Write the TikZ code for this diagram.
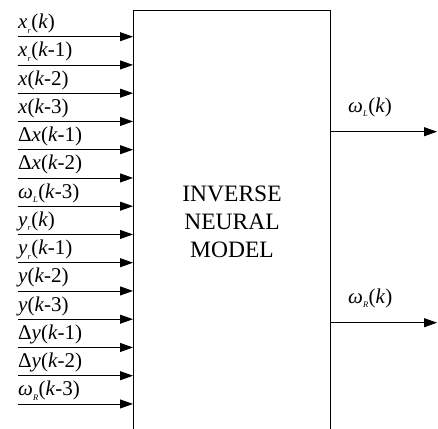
\documentclass[tikz,border=0pt]{standalone}
\usepackage{fontspec}
\setmainfont{Liberation Serif}
\usetikzlibrary{arrows.meta}
\newcommand{\lowidx}[1]{\raisebox{-.45ex}{\fontsize{8.5}{8.5}\selectfont\textit{#1}}\kern.5pt}
\tikzset{every node/.append style={font=\rmfamily},
  sig/.style={-{Triangle[length=13pt,width=9pt]},line width=.8pt},
  lbl/.style={anchor=base west,inner sep=0pt,font=\fontsize{21}{21}\selectfont}}

\begin{document}
\begin{tikzpicture}[x=1pt,y=-1pt]
  \clip (0,0) rectangle (438,428);
  \node[draw,line width=1pt,minimum width=197pt,minimum height=422pt,anchor=north west,
        align=center,font=\fontsize{23.5}{28}\selectfont] (model) at (133,10) {INVERSE\\NEURAL\\MODEL};
  % inputs
  \foreach \lab [count=\i from 0] in {
      {\textit{x}\lowidx{r}(\textit{k})},
      {\textit{x}\lowidx{r}(\textit{k}-1)},
      {\textit{x}(\textit{k}-2)},
      {\textit{x}(\textit{k}-3)},
      {Δ\textit{x}(\textit{k}-1)},
      {Δ\textit{x}(\textit{k}-2)},
      {\textit{ω}\lowidx{L}(\textit{k}-3)},
      {\textit{y}\lowidx{r}(\textit{k})},
      {\textit{y}\lowidx{r}(\textit{k}-1)},
      {\textit{y}(\textit{k}-2)},
      {\textit{y}(\textit{k}-3)},
      {Δ\textit{y}(\textit{k}-1)},
      {Δ\textit{y}(\textit{k}-2)},
      {\textit{ω}\lowidx{R}(\textit{k}-3)}}{
    \coordinate (in\i) at (18,{36.7+28.25*\i});
    \draw[sig] (in\i) -- (in\i -| model.west);
    \node[lbl] (lab\i) at (18,{28.7+28.25*\i}) {\lab};
  }
  % outputs
  \coordinate (outl) at (437,131.7);
  \coordinate (outr) at (437,322.7);
  \draw[sig] (model.east |- outl) -- (outl);
  \draw[sig] (model.east |- outr) -- (outr);
  \node[lbl] (labl) at (348,112) {\textit{ω}\lowidx{L}(\textit{k})};
  \node[lbl] (labr) at (348,303) {\textit{ω}\lowidx{R}(\textit{k})};
\end{tikzpicture}
\end{document}
